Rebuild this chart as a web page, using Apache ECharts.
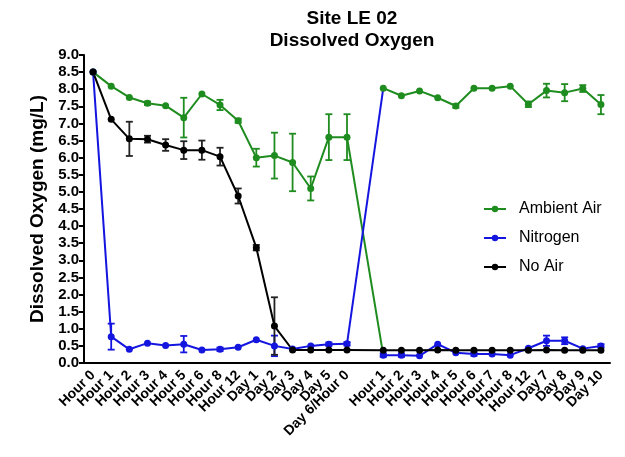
<!DOCTYPE html>
<html>
<head>
<meta charset="utf-8">
<script src="https://cdn.jsdelivr.net/npm/echarts@6/dist/echarts.min.js"></script>
<style>
    html, body { margin: 0; padding: 0; background: #fff; }
    #main { width: 625px; height: 457px; }
</style>
</head>
<body>
<div id="main"></div>
<script>
// 横轴类别, 空字符串是两段之间的空位
var categories = ['Hour 0', 'Hour 1', 'Hour 2', 'Hour 3', 'Hour 4', 'Hour 5', 'Hour 6', 'Hour 8', 'Hour 12',
    'Day 1', 'Day 2', 'Day 3', 'Day 4', 'Day 5', 'Day 6/Hour 0', '',
    'Hour 1', 'Hour 2', 'Hour 3', 'Hour 4', 'Hour 5', 'Hour 6', 'Hour 7', 'Hour 8', 'Hour 12',
    'Day 7', 'Day 8', 'Day 9', 'Day 10'];

var ambientAir = [8.5, 8.09, 7.76, 7.59, 7.52, 7.17, 7.86, 7.54, 7.08, 6.0, 6.06, 5.86, 5.10, 6.6, 6.6, null,
    8.03, 7.81, 7.95, 7.75, 7.51, 8.03, 8.03, 8.09, 7.56, 7.96, 7.9, 8.02, 7.55];
var ambientErr = [0, 0, 0, 0.05, 0, 0.58, 0, 0.15, 0.06, 0.26, 0.67, 0.84, 0.35, 0.67, 0.67, null,
    0, 0, 0, 0, 0.05, 0, 0, 0, 0.08, 0.2, 0.25, 0.1, 0.28];

var nitrogen = [8.5, 0.77, 0.40, 0.58, 0.51, 0.55, 0.38, 0.40, 0.46, 0.68, 0.5, 0.41, 0.5, 0.55, 0.56, null,
    0.23, 0.23, 0.21, 0.55, 0.30, 0.26, 0.26, 0.23, 0.43, 0.65, 0.65, 0.42, 0.5];
var nitrogenErr = [0, 0.38, 0, 0, 0, 0.24, 0, 0.05, 0, 0, 0.3, 0, 0, 0.05, 0.05, null,
    0.05, 0.05, 0, 0, 0, 0.05, 0, 0, 0, 0.15, 0.1, 0, 0.05];

var noAir = [8.5, 7.12, 6.55, 6.54, 6.37, 6.22, 6.22, 6.03, 4.88, 3.37, 1.08, 0.38, 0.38, 0.38, 0.38, null,
    0.37, 0.37, 0.37, 0.38, 0.37, 0.37, 0.37, 0.37, 0.37, 0.38, 0.37, 0.37, 0.37];
var noAirErr = [0, 0, 0.5, 0.1, 0.17, 0.26, 0.28, 0.26, 0.22, 0.08, 0.84, 0, 0, 0, 0, null,
    0, 0, 0, 0, 0, 0, 0, 0, 0, 0, 0, 0, 0];

var yTicks = { min: 0, max: 9, interval: 0.5 };

var green = '#1f8c1f';
var blue = '#1515e0';
var black = '#000000';

// 第6天换气后两条线交叉连接
function connector(fromArr, toArr) {
    var arr = categories.map(function () { return null; });
    arr[14] = fromArr[14];
    arr[16] = toArr[16];
    return arr;
}

function errData(vals, errs) {
    var out = [];
    for (var i = 0; i < vals.length; i++) {
        if (vals[i] != null && errs[i] > 0) {
            out.push([i, vals[i], errs[i]]);
        }
    }
    return out;
}

function errSeries(vals, errs, color) {
    return {
        type: 'custom',
        silent: true,
        z: 1,
        data: errData(vals, errs),
        renderItem: function (params, api) {
            var i = api.value(0);
            var v = api.value(1);
            var e = api.value(2);
            var top = api.coord([i, v + e]);
            var bot = api.coord([i, v - e]);
            var w = 3.5;
            var st = { stroke: color, lineWidth: 1.8 };
            return {
                type: 'group',
                children: [
                    { type: 'line', shape: { x1: top[0], y1: top[1], x2: bot[0], y2: bot[1] }, style: st },
                    { type: 'line', shape: { x1: top[0] - w, y1: top[1], x2: top[0] + w, y2: top[1] }, style: st },
                    { type: 'line', shape: { x1: bot[0] - w, y1: bot[1], x2: bot[0] + w, y2: bot[1] }, style: st }
                ]
            };
        }
    };
}

function lineSeries(name, data, color, connect) {
    return {
        name: name,
        type: 'line',
        data: data,
        connectNulls: connect,
        symbol: 'circle',
        symbolSize: 7,
        z: 3,
        itemStyle: { color: color },
        lineStyle: { color: color, width: 2 }
    };
}

function connectorSeries(data, color) {
    return {
        type: 'line',
        data: data,
        connectNulls: true,
        symbol: 'none',
        silent: true,
        z: 2,
        lineStyle: { color: color, width: 2 }
    };
}

var myChart = echarts.init(document.getElementById('main'));

myChart.setOption({
    animation: false,
    backgroundColor: '#fff',
    title: {
        text: 'Site LE 02\nDissolved Oxygen',
        left: 347,
        top: 3,
        textAlign: 'center',
        textStyle: {
            fontFamily: 'Liberation Sans',
            fontSize: 19,
            fontWeight: 'bold',
            lineHeight: 22,
            color: '#000'
        }
    },
    legend: {
        orient: 'vertical',
        left: 478,
        top: 194,
        itemWidth: 22,
        itemHeight: 8,
        itemGap: 9,
        data: ['Ambient Air', 'Nitrogen', 'No Air'],
        textStyle: {
            fontFamily: 'Liberation Sans',
            fontSize: 16,
            lineHeight: 20,
            color: '#000',
            padding: [0, 0, 0, 8]
        }
    },
    grid: {
        left: 84,
        right: 15,
        top: 55,
        bottom: 94
    },
    xAxis: {
        type: 'category',
        data: categories,
        boundaryGap: true,
        axisLine: { lineStyle: { color: '#000', width: 2 } },
        axisTick: {
            alignWithLabel: true,
            length: 8,
            lineStyle: { color: '#000', width: 2 },
            interval: function (index, value) { return value !== ''; }
        },
        axisLabel: {
            interval: 0,
            rotate: 45,
            margin: 10,
            fontFamily: 'Liberation Sans',
            fontSize: 14,
            fontWeight: 'bold',
            color: '#000'
        },
        splitLine: { show: false }
    },
    yAxis: {
        type: 'value',
        min: yTicks.min,
        max: yTicks.max,
        interval: yTicks.interval,
        name: 'Dissolved Oxygen (mg/L)',
        nameLocation: 'middle',
        nameRotate: 90,
        nameGap: 37,
        nameTextStyle: {
            fontFamily: 'Liberation Sans',
            fontSize: 19,
            fontWeight: 'bold',
            color: '#000'
        },
        axisLine: { show: true, lineStyle: { color: '#000', width: 2 } },
        axisTick: { show: true, length: 5, lineStyle: { color: '#000', width: 2 } },
        axisLabel: {
            margin: 5,
            fontFamily: 'Liberation Sans',
            fontSize: 15,
            fontWeight: 'bold',
            color: '#000',
            formatter: function (v) { return v.toFixed(1); }
        },
        splitLine: { show: false }
    },
    series: [
        errSeries(ambientAir, ambientErr, green),
        errSeries(nitrogen, nitrogenErr, blue),
        errSeries(noAir, noAirErr, '#222'),
        connectorSeries(connector(ambientAir, nitrogen), green),
        connectorSeries(connector(nitrogen, ambientAir), blue),
        lineSeries('Ambient Air', ambientAir, green, false),
        lineSeries('Nitrogen', nitrogen, blue, false),
        lineSeries('No Air', noAir, black, true)
    ]
});
</script>
</body>
</html>
